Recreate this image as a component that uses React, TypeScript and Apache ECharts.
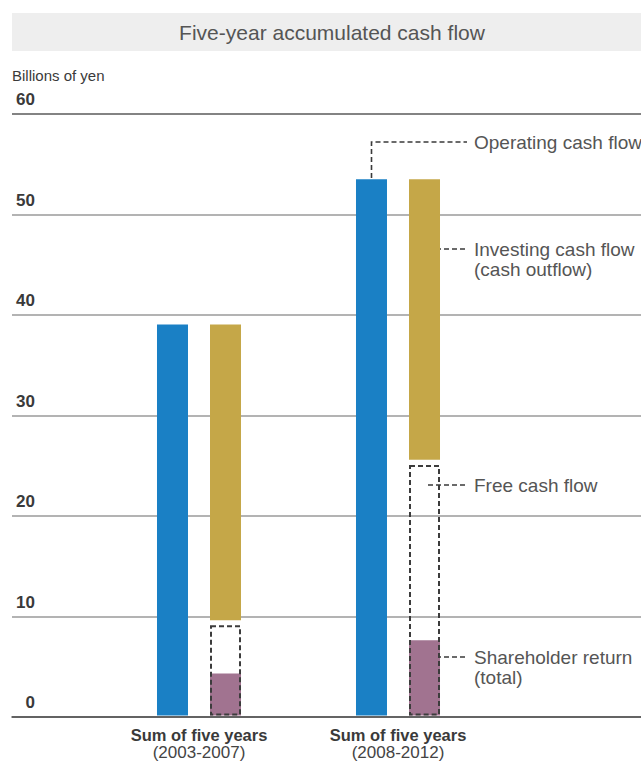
import React, { useEffect, useRef } from "react";
import * as echarts from "echarts";

const titleText = "Five-year accumulated cash flow";
const unitText = "Billions of yen";
const categories = ["Sum of five years", "Sum of five years"];
const periods = ["(2003-2007)", "(2008-2012)"];
const yMin = 0;
const yMax = 60;
const yStep = 10;
const operatingCashFlow = [39.0, 53.5];
const investingCashFlow = [29.5, 28.0];
const freeCashFlow = [8.9, 24.9];
const shareholderReturn = [4.2, 7.5];
const annotationLabels = [
  "Operating cash flow",
  "Investing cash flow\n(cash outflow)",
  "Free cash flow",
  "Shareholder return\n(total)",
];

const BLUE = "#1a80c5";
const GOLD = "#c5a748";
const PURPLE = "#a17390";
const TEXT = "#555555";
const DASH = "#3c3c3c";
const FONT = "'Liberation Sans', Arial, sans-serif";

export default function App() {
  const ref = useRef<HTMLDivElement>(null);
  useEffect(() => {
    document.body.style.margin = "0";
    const chart = echarts.init(ref.current!, null, { renderer: "svg" });
    const catData = categories.map((c, i) => c + "\n" + periods[i]);
    const gapValues = operatingCashFlow.map(
      (op, i) => op - investingCashFlow[i] - shareholderReturn[i]
    );
    const nLines = (yMax - yMin) / yStep + 1;
    const splitColors = Array.from({ length: nLines }, (_, i) =>
      i === nLines - 1 ? "#5a5a5a" : "#9a9a9a"
    );
    const leaderStyle = { stroke: "#3a3a3a", lineWidth: 1.6, lineDash: [5, 3] };
    const annText = (x: number, y: number, t: string, va: string) => ({
      type: "text",
      x,
      y,
      style: {
        text: t,
        fill: TEXT,
        font: `19px ${FONT}`,
        lineHeight: 20,
        verticalAlign: va,
        align: "left",
      },
    });

    const option: any = {
      animation: false,
      backgroundColor: "#ffffff",
      grid: [
        { left: 12, right: 0, top: 114, bottom: 44 },
        { left: 99.5, width: 398, top: 114, bottom: 44 },
      ],
      xAxis: [
        {
          gridIndex: 0,
          type: "value",
          min: 0,
          max: 1,
          axisLine: { show: true, onZero: false, lineStyle: { color: "#4a4a4a", width: 1.5 } },
          axisTick: { show: false },
          axisLabel: { show: false },
          splitLine: { show: false },
        },
        {
          gridIndex: 1,
          type: "category",
          data: catData,
          axisLine: { show: false },
          axisTick: { show: false },
          axisLabel: {
            margin: 10,
            formatter: (v: string) => {
              const [a, b] = v.split("\n");
              return `{b|${a}}\n{p|${b}}`;
            },
            rich: {
              b: { fontFamily: FONT, fontWeight: "bold", fontSize: 16.5, color: "#3a3a3a", lineHeight: 18 },
              p: { fontFamily: FONT, fontSize: 17, color: "#444", lineHeight: 18 },
            },
          },
        },
      ],
      yAxis: [
        {
          gridIndex: 0,
          type: "value",
          min: yMin,
          max: yMax,
          interval: yStep,
          axisLine: { show: false },
          axisTick: { show: false },
          splitLine: { show: true, lineStyle: { color: splitColors, width: 1.5 } },
          axisLabel: {
            inside: true,
            margin: 23,
            align: "right",
            verticalAlign: "bottom",
            padding: [0, 0, 6, 0],
            fontFamily: FONT,
            fontWeight: "bold",
            fontSize: 17,
            color: "#3a3a3a",
          },
        },
        {
          gridIndex: 1,
          type: "value",
          min: yMin,
          max: yMax,
          interval: yStep,
          show: false,
          splitLine: { show: false },
        },
      ],
      series: [
        {
          name: "Operating cash flow",
          type: "bar",
          xAxisIndex: 1,
          yAxisIndex: 1,
          stack: "op",
          data: operatingCashFlow,
          barWidth: 31,
          barGap: "71%",
          itemStyle: { color: BLUE },
        },
        {
          name: "Shareholder return",
          type: "bar",
          xAxisIndex: 1,
          yAxisIndex: 1,
          stack: "inv",
          data: shareholderReturn,
          barWidth: 31,
          itemStyle: { color: PURPLE },
        },
        {
          name: "gap",
          type: "bar",
          xAxisIndex: 1,
          yAxisIndex: 1,
          stack: "inv",
          data: gapValues,
          barWidth: 31,
          itemStyle: { color: "transparent" },
        },
        {
          name: "Investing cash flow",
          type: "bar",
          xAxisIndex: 1,
          yAxisIndex: 1,
          stack: "inv",
          data: investingCashFlow,
          barWidth: 31,
          itemStyle: { color: GOLD },
        },
        {
          name: "Free cash flow",
          type: "custom",
          xAxisIndex: 1,
          yAxisIndex: 1,
          z: 10,
          data: freeCashFlow.map((v, i) => [i, v]),
          renderItem: (params: any, api: any) => {
            const cat = api.value(0);
            const v = api.value(1);
            const p0 = api.coord([cat, 0]);
            const p1 = api.coord([cat, v]);
            const w = 31;
            const left = p0[0] + 11;
            return {
              type: "rect",
              shape: { x: left + 1, y: p1[1], width: w - 2, height: p0[1] - p1[1] - 1 },
              style: { fill: "none", stroke: DASH, lineWidth: 2, lineDash: [5, 3] },
            };
          },
        },
      ],
      graphic: [
        {
          type: "rect",
          shape: { x: 12, y: 13, width: 640, height: 38 },
          style: { fill: "#eeeeee" },
          z: -1,
        },
        {
          type: "text",
          x: 332,
          y: 32,
          style: {
            text: titleText,
            fill: TEXT,
            font: `21px ${FONT}`,
            align: "center",
            verticalAlign: "middle",
          },
        },
        {
          type: "text",
          x: 12,
          y: 75,
          style: {
            text: unitText,
            fill: "#3a3a3a",
            font: `15px ${FONT}`,
            align: "left",
            verticalAlign: "middle",
          },
        },
        { type: "polyline", shape: { points: [[371.5, 194], [371.5, 142], [467, 142]] }, style: { ...leaderStyle, fill: null } },
        annText(474, 142, annotationLabels[0], "middle"),
        { type: "line", shape: { x1: 428, y1: 249, x2: 467, y2: 249 }, style: leaderStyle },
        annText(474, 239, annotationLabels[1], "top"),
        { type: "line", shape: { x1: 428, y1: 485, x2: 467, y2: 485 }, style: leaderStyle },
        annText(474, 485, annotationLabels[2], "middle"),
        { type: "line", shape: { x1: 428, y1: 657, x2: 467, y2: 657 }, style: leaderStyle },
        annText(474, 647, annotationLabels[3], "top"),
      ],
    };
    chart.setOption(option);
    return () => chart.dispose();
  }, []);
  return <div ref={ref} style={{ width: 641, height: 761 }} />;
}
